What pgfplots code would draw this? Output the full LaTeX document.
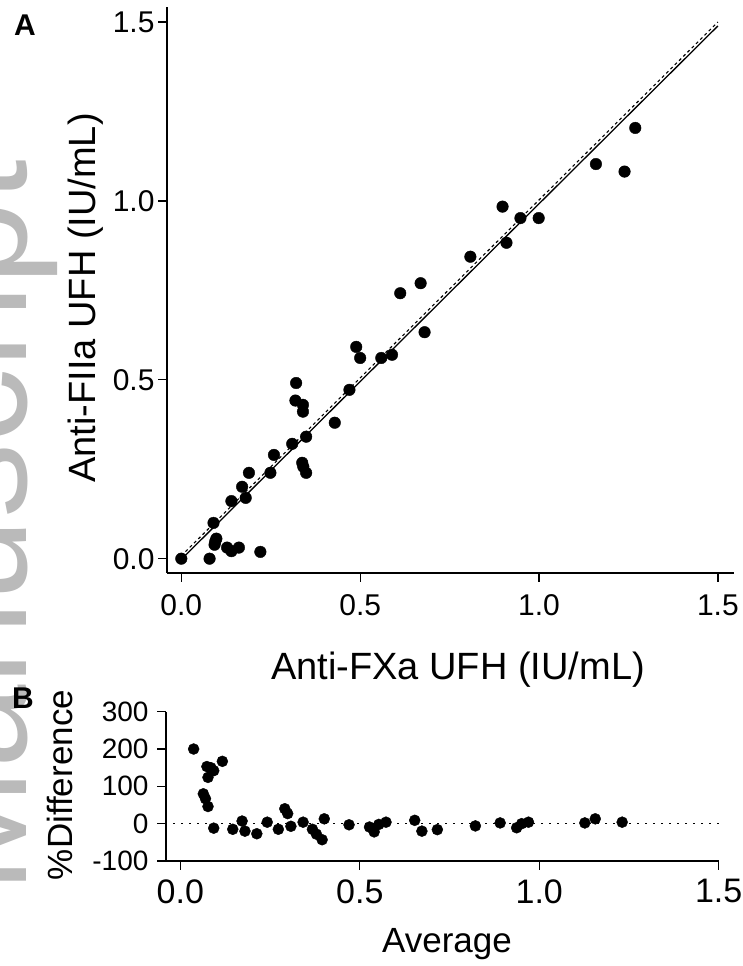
\documentclass[border=0pt]{standalone}
\usepackage{fontspec}
\setmainfont{Liberation Sans}
\usepackage{pgfplots}
\pgfplotsset{compat=1.18}
\begin{document}
\begin{tikzpicture}[x=1pt,y=1pt]
\useasboundingbox (0,0) rectangle (742,966);
% watermark
\begin{scope}
\clip (0,0) rectangle (742,966);
\node[rotate=90, anchor=base east, text=black!27, inner sep=0pt, font=\fontsize{150}{150}\selectfont] at (26,806) {Manuscript};
\end{scope}
% ---------- Panel A ----------
\begin{axis}[
  at={(167pt,393pt)}, anchor=south west,
  scale only axis, width=567pt, height=566pt,
  xmin=-0.04, xmax=1.545, ymin=-0.04, ymax=1.542,
  axis lines*=left, axis line style={line width=1.2pt},
  every tick/.style={black, line width=1.2pt},
  tick align=outside, major tick length=9pt,
  xtick={0,0.5,1,1.5}, ytick={0,0.5,1,1.5},
  /pgf/number format/assume math mode=true,
  /pgf/number format/fixed, /pgf/number format/fixed zerofill, /pgf/number format/precision=1,
  tick label style={font=\fontsize{30}{30}\selectfont},
  xticklabel style={yshift=-9pt},
  clip=false,
]
\addplot[black, line width=1.3pt] coordinates {(0.0,-0.002) (1.5,1.489)};
\addplot[black, line width=1.1pt, dash pattern=on 3pt off 3pt] coordinates {(0.0,0.008) (1.5,1.5)};
\addplot[only marks, mark=*, mark size=5.8pt, black] coordinates {
(0,0) (0.079,0) (0.090,0.100) (0.093,0.039) (0.098,0.056) (0.095,0.048)
(0.128,0.031) (0.140,0.021) (0.161,0.031) (0.221,0.019) (0.140,0.161)
(0.180,0.170) (0.170,0.201) (0.189,0.240) (0.249,0.240) (0.259,0.290)
(0.310,0.321) (0.349,0.341) (0.338,0.268) (0.341,0.257) (0.349,0.240)
(0.321,0.491) (0.319,0.442) (0.340,0.430) (0.340,0.411) (0.429,0.380)
(0.470,0.472) (0.489,0.592) (0.500,0.561) (0.559,0.561) (0.589,0.570)
(0.612,0.742) (0.669,0.770) (0.680,0.633) (0.808,0.844) (0.898,0.984)
(0.909,0.883) (0.948,0.952) (0.999,0.952) (1.159,1.103) (1.239,1.082)
(1.269,1.204)
};
\end{axis}
% ---------- Panel B ----------
\begin{axis}[
  at={(166pt,105pt)}, anchor=south west,
  scale only axis, width=552.7pt, height=149.3pt,
  xmin=-0.04, xmax=1.5, ymin=-100, ymax=300,
  axis lines*=left, axis line style={line width=1.2pt},
  every tick/.style={black, line width=1.2pt},
  tick align=outside, major tick length=9pt,
  xtick={0,0.5,1,1.5}, ytick={-100,0,100,200,300},
  /pgf/number format/assume math mode=true,
  xticklabel style={font=\fontsize{34}{34}\selectfont, yshift=-6pt, /pgf/number format/fixed, /pgf/number format/fixed zerofill, /pgf/number format/precision=1},
  yticklabel style={font=\fontsize{28}{28}\selectfont, xshift=-5pt},
  clip=false,
]
\addplot[black, line width=1.6pt, dash pattern=on 1.6pt off 6.4pt] coordinates {(-0.02,0) (1.5,0)};
\addplot[only marks, mark=*, mark size=5.5pt, black] coordinates {
(0.037,200) (0.064,80) (0.070,67) (0.077,46) (0.074,153) (0.077,124)
(0.093,142) (0.085,150) (0.117,167) (0.093,-12) (0.146,-15) (0.172,7)
(0.180,-20) (0.213,-27) (0.242,4) (0.273,-15) (0.291,40) (0.299,27)
(0.308,-7) (0.342,4) (0.368,-15) (0.379,-28) (0.395,-43) (0.401,13)
(0.470,-3) (0.527,-9) (0.540,-22) (0.553,-2) (0.573,4) (0.653,9)
(0.673,-20) (0.716,-16) (0.822,-6) (0.891,2) (0.937,-11) (0.951,0)
(0.970,4) (1.127,2) (1.156,13) (1.231,4)
};
\end{axis}
% ---------- labels ----------
\node[font=\bfseries\fontsize{30}{30}\selectfont] at (25,941) {A};
\node[font=\bfseries\fontsize{30}{30}\selectfont] at (23,268) {B};
\node[anchor=base, font=\fontsize{38}{38}\selectfont] at (458,286) {Anti-FXa UFH (IU/mL)};
\node[rotate=90, anchor=base, font=\fontsize{38}{38}\selectfont] at (95,668) {Anti-FIIa UFH (IU/mL)};
\node[anchor=base, font=\fontsize{35}{35}\selectfont] at (447,13) {Average};
\node[rotate=90, anchor=base, font=\fontsize{35}{35}\selectfont] at (72,181) {\%Difference};
\end{tikzpicture}
\end{document}
